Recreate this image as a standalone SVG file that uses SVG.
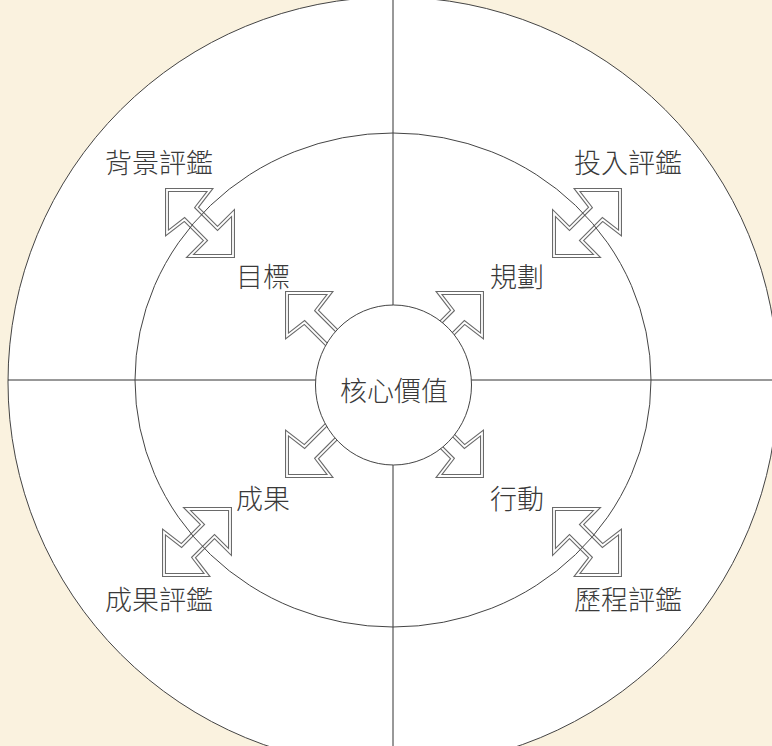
<svg xmlns="http://www.w3.org/2000/svg" xmlns:xlink="http://www.w3.org/1999/xlink" width="772" height="746" viewBox="0 0 772 746">
  <style>
    .ring { fill: #ffffff; stroke: #444; stroke-width: 1; }
    .ringline { fill: none; stroke: #444; stroke-width: 1; }
    .axis { stroke: #333; stroke-width: 1; }
    .ao { fill: #ffffff; stroke: #6a6a6a; stroke-width: 4; stroke-linejoin: miter; }
    .ai { fill: none; stroke: #ffffff; stroke-width: 1.8; stroke-linejoin: miter; }
    .lbl { font-family: "Noto Sans CJK TC", "Noto Sans CJK SC", sans-serif; font-weight: 300; font-size: 27px; fill: #3a3a3a; text-anchor: middle; dominant-baseline: central; }
  </style>
  <defs>
    <polygon id="dbl" points="0,0 43,0 29.5,17.5 50.5,38.5 66,23 66,66 23,66 38.5,50.5 17.5,29.5 0,43"/>
    <polygon id="sgl" points="0,0 43,0 29.5,17.5 79.5,67.5 67.5,79.5 17.5,29.5 0,43"/>
  </defs>
  <rect x="0" y="0" width="772" height="746" fill="#FAF2DF"/>
  <g id="outer">
    <circle class="ring" cx="393" cy="382" r="385"/>
  </g>
  <g id="middle-fill">
    <ellipse cx="393" cy="380" rx="258" ry="247" fill="#ffffff"/>
  </g>
  <g id="axes">
    <line class="axis" x1="393" y1="0" x2="393" y2="746"/>
    <line class="axis" x1="8" y1="380" x2="772" y2="380"/>
  </g>
  <g id="connectors">
    <g transform="translate(167,190)"><use xlink:href="#dbl" class="ao"/><use xlink:href="#dbl" class="ai"/></g>
    <g transform="translate(620,190) scale(-1,1)"><use xlink:href="#dbl" class="ao"/><use xlink:href="#dbl" class="ai"/></g>
    <g transform="translate(164,575) scale(1,-1)"><use xlink:href="#dbl" class="ao"/><use xlink:href="#dbl" class="ai"/></g>
    <g transform="translate(620,575) scale(-1,-1)"><use xlink:href="#dbl" class="ao"/><use xlink:href="#dbl" class="ai"/></g>
    <g transform="translate(287,293)"><use xlink:href="#sgl" class="ao"/><use xlink:href="#sgl" class="ai"/></g>
    <g transform="translate(482,293) scale(-1,1)"><use xlink:href="#sgl" class="ao"/><use xlink:href="#sgl" class="ai"/></g>
    <g transform="translate(287,476) scale(1,-1)"><use xlink:href="#sgl" class="ao"/><use xlink:href="#sgl" class="ai"/></g>
    <g transform="translate(482,476) scale(-1,-1)"><use xlink:href="#sgl" class="ao"/><use xlink:href="#sgl" class="ai"/></g>
  </g>
  <g id="middle">
    <ellipse class="ringline" cx="393" cy="380" rx="258" ry="247"/>
  </g>
  <g id="core">
    <ellipse class="ring" cx="393.5" cy="385" rx="78" ry="80"/>
    <text class="lbl" x="394" y="389">核心價值</text>
  </g>
  <g id="n-bg"><text class="lbl" x="159" y="161">背景評鑑</text></g>
  <g id="n-input"><text class="lbl" x="628" y="161">投入評鑑</text></g>
  <g id="n-outcome-eval"><text class="lbl" x="159" y="598">成果評鑑</text></g>
  <g id="n-process"><text class="lbl" x="628" y="598">歷程評鑑</text></g>
  <g id="n-goal"><text class="lbl" x="263" y="275">目標</text></g>
  <g id="n-plan"><text class="lbl" x="517" y="275">規劃</text></g>
  <g id="n-result"><text class="lbl" x="263" y="497">成果</text></g>
  <g id="n-action"><text class="lbl" x="517" y="497">行動</text></g>
</svg>
